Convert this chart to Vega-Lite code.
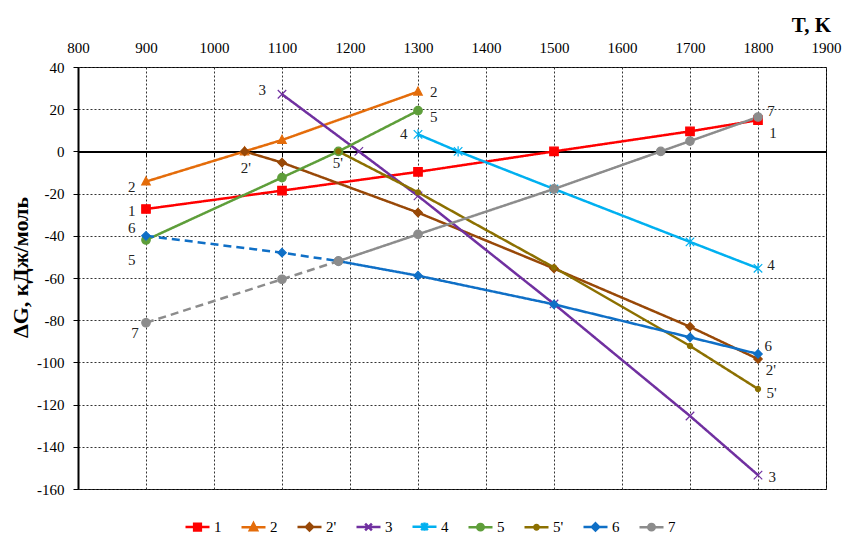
{
  "$schema": "https://vega.github.io/schema/vega-lite/v6.json",
  "width": 748,
  "height": 422,
  "autosize": {"type": "none"},
  "padding": {"left": 78, "top": 67, "right": 17, "bottom": 47},
  "background": "white",
  "config": {
    "font": "Liberation Serif",
    "view": {"stroke": "#000", "strokeWidth": 1},
    "axis": {
      "labelFont": "Liberation Serif",
      "labelFontSize": 15,
      "labelColor": "#000",
      "titleFont": "Liberation Serif",
      "titleColor": "#000",
      "gridColor": "#333",
      "gridDash": [2, 2],
      "gridWidth": 1
    },
    "legend": {
      "orient": "none",
      "legendX": 106,
      "legendY": 446,
      "direction": "horizontal",
      "padding": 0,
      "labelFont": "Liberation Serif",
      "labelFontSize": 15,
      "labelColor": "#000",
      "labelOffset": 3,
      "columnPadding": 14,
      "symbolSize": 576,
      "symbolStrokeWidth": 2.5,
      "symbolOpacity": 1
    }
  },
  "datasets": {
    "pts": [
      {"s": "1", "T": 900, "dG": -27.3, "part": "calc"},
      {"s": "1", "T": 1100, "dG": -18.6, "part": "calc"},
      {"s": "1", "T": 1300, "dG": -9.7, "part": "calc"},
      {"s": "1", "T": 1500, "dG": 0, "part": "calc"},
      {"s": "1", "T": 1700, "dG": 9.5, "part": "calc"},
      {"s": "1", "T": 1800, "dG": 14.8, "part": "calc"},
      {"s": "2", "T": 900, "dG": -14.3, "part": "calc"},
      {"s": "2", "T": 1045, "dG": 0, "part": "calc"},
      {"s": "2", "T": 1100, "dG": 5.4, "part": "calc"},
      {"s": "2", "T": 1300, "dG": 28.3, "part": "calc"},
      {"s": "2'", "T": 1045, "dG": 0, "part": "calc"},
      {"s": "2'", "T": 1100, "dG": -5.3, "part": "calc"},
      {"s": "2'", "T": 1300, "dG": -29, "part": "calc"},
      {"s": "2'", "T": 1500, "dG": -55.5, "part": "calc"},
      {"s": "2'", "T": 1700, "dG": -83.1, "part": "calc"},
      {"s": "2'", "T": 1800, "dG": -98.4, "part": "calc"},
      {"s": "3", "T": 1100, "dG": 27.1, "part": "calc"},
      {"s": "3", "T": 1213, "dG": 0, "part": "calc"},
      {"s": "3", "T": 1300, "dG": -21.1, "part": "calc"},
      {"s": "3", "T": 1500, "dG": -72.3, "part": "calc"},
      {"s": "3", "T": 1700, "dG": -125.4, "part": "calc"},
      {"s": "3", "T": 1800, "dG": -153.4, "part": "calc"},
      {"s": "4", "T": 1300, "dG": 8.1, "part": "calc"},
      {"s": "4", "T": 1359, "dG": 0, "part": "calc"},
      {"s": "4", "T": 1500, "dG": -17.8, "part": "calc"},
      {"s": "4", "T": 1700, "dG": -42.9, "part": "calc"},
      {"s": "4", "T": 1800, "dG": -55.4, "part": "calc"},
      {"s": "5", "T": 900, "dG": -42, "part": "calc"},
      {"s": "5", "T": 1100, "dG": -12.4, "part": "calc"},
      {"s": "5", "T": 1183, "dG": 0, "part": "calc"},
      {"s": "5", "T": 1300, "dG": 19.3, "part": "calc"},
      {"s": "5'", "T": 1183, "dG": 0, "part": "calc"},
      {"s": "5'", "T": 1300, "dG": -19.4, "part": "calc"},
      {"s": "5'", "T": 1500, "dG": -55, "part": "calc"},
      {"s": "5'", "T": 1700, "dG": -92.2, "part": "calc"},
      {"s": "5'", "T": 1800, "dG": -112.6, "part": "calc"},
      {"s": "6", "T": 900, "dG": -40, "part": "extr"},
      {"s": "6", "T": 1100, "dG": -48, "part": "extr"},
      {"s": "6", "T": 1183, "dG": -52, "part": "extr"},
      {"s": "6", "T": 1183, "dG": -52, "part": "calc"},
      {"s": "6", "T": 1300, "dG": -58.9, "part": "calc"},
      {"s": "6", "T": 1500, "dG": -72.5, "part": "calc"},
      {"s": "6", "T": 1700, "dG": -88.1, "part": "calc"},
      {"s": "6", "T": 1800, "dG": -96, "part": "calc"},
      {"s": "7", "T": 900, "dG": -81.2, "part": "extr"},
      {"s": "7", "T": 1100, "dG": -60.6, "part": "extr"},
      {"s": "7", "T": 1183, "dG": -52, "part": "extr"},
      {"s": "7", "T": 1183, "dG": -52, "part": "calc"},
      {"s": "7", "T": 1300, "dG": -39.3, "part": "calc"},
      {"s": "7", "T": 1500, "dG": -17.8, "part": "calc"},
      {"s": "7", "T": 1657, "dG": 0, "part": "calc"},
      {"s": "7", "T": 1700, "dG": 4.9, "part": "calc"},
      {"s": "7", "T": 1800, "dG": 16.3, "part": "calc"}
    ],
    "labels": [
      {"label": "3", "T": 1071, "dG": 29.1},
      {"label": "2", "T": 1323, "dG": 28.2},
      {"label": "5", "T": 1323, "dG": 16.3},
      {"label": "4", "T": 1279, "dG": 8.2},
      {"label": "2'", "T": 1047, "dG": -7.9},
      {"label": "5'", "T": 1182, "dG": -5.5},
      {"label": "2", "T": 879, "dG": -16.9},
      {"label": "1", "T": 879, "dG": -28.3},
      {"label": "6", "T": 879, "dG": -36.3},
      {"label": "5", "T": 879, "dG": -51.4},
      {"label": "7", "T": 884, "dG": -86},
      {"label": "7", "T": 1819, "dG": 19.1},
      {"label": "1", "T": 1822, "dG": 8.7},
      {"label": "4", "T": 1819, "dG": -53.8},
      {"label": "6", "T": 1815, "dG": -92.2},
      {"label": "2'", "T": 1819, "dG": -103.6},
      {"label": "5'", "T": 1820, "dG": -114.5},
      {"label": "3", "T": 1821, "dG": -154.3}
    ]
  },
  "layer": [
    {
      "data": {"name": "pts"},
      "mark": {"type": "line", "strokeWidth": 2.5},
      "encoding": {
        "x": {
          "field": "T",
          "type": "quantitative",
          "scale": {"domain": [800, 1900], "nice": false, "zero": false},
          "axis": {
            "orient": "top",
            "values": [800, 900, 1000, 1100, 1200, 1300, 1400, 1500, 1600, 1700, 1800, 1900],
            "format": "d",
            "ticks": false,
            "tickSize": 0,
            "domain": false,
            "labelPadding": 12,
            "labelFlush": false,
            "grid": true,
            "zindex": 0,
            "title": "T, K",
            "titleFontSize": 21,
            "titleFontWeight": "bold",
            "titleX": 733,
            "titleY": -42,
            "titleAlign": "center",
            "titleBaseline": "middle"
          }
        },
        "y": {
          "field": "dG",
          "type": "quantitative",
          "scale": {"domain": [-160, 40], "nice": false, "zero": false},
          "axis": {
            "values": [-160, -140, -120, -100, -80, -60, -40, -20, 0, 20, 40],
            "labelExpr": "'' + datum.value",
            "domainColor": "#000",
            "domainWidth": 2,
            "tickColor": "#000",
            "tickSize": 5,
            "labelPadding": 9,
            "grid": true,
            "zindex": 0,
            "title": "ΔG, кДж/моль",
            "titleFontSize": 22,
            "titleFontWeight": "bold",
            "titleX": -58,
            "titleY": 200,
            "titleAlign": "center",
            "titleBaseline": "middle"
          }
        },
        "color": {
          "field": "s",
          "type": "nominal",
          "scale": {
            "domain": ["1", "2", "2'", "3", "4", "5", "5'", "6", "7"],
            "range": ["#FF0000", "#E46C0A", "#984807", "#7030A0", "#00B0F0", "#5E9E3A", "#8C7000", "#0F6FC6", "#8C8C8C"]
          },
          "legend": {"title": null}
        },
        "strokeDash": {
          "field": "part",
          "type": "nominal",
          "scale": {"domain": ["calc", "extr"], "range": [[1, 0], [8, 5]]},
          "legend": null
        }
      }
    },
    {
      "data": {"name": "pts"},
      "mark": {"type": "point", "filled": true, "size": 72, "strokeWidth": 1.2, "opacity": 1},
      "encoding": {
        "x": {
          "field": "T",
          "type": "quantitative",
          "axis": {
            "orient": "bottom",
            "offset": -337.6,
            "labels": false,
            "grid": false,
            "title": null,
            "domainColor": "#000",
            "domainWidth": 2,
            "tickColor": "#000",
            "tickSize": 5,
            "tickWidth": 1,
            "values": [800, 900, 1000, 1100, 1200, 1300, 1400, 1500, 1600, 1700, 1800, 1900],
            "zindex": 0
          }
        },
        "y": {"field": "dG", "type": "quantitative"},
        "color": {"field": "s", "type": "nominal", "legend": {"title": null}},
        "stroke": {
          "field": "s",
          "type": "nominal",
          "scale": {
            "domain": ["1", "2", "2'", "3", "4", "5", "5'", "6", "7"],
            "range": ["#FF0000", "#E46C0A", "#984807", "#7030A0", "#00B0F0", "#5E9E3A", "#8C7000", "#0F6FC6", "#8C8C8C"]
          },
          "legend": null
        },
        "shape": {
          "condition": [
            {"test": "datum.s === '1'", "value": "M-1,-1H1V1H-1Z"},
            {"test": "datum.s === '2'", "value": "M0,-1.1L1,0.8H-1Z"},
            {"test": "datum.s === \"2'\"", "value": "M0,-1L1,0L0,1L-1,0Z"},
            {"test": "datum.s === '3'", "value": "M-1,-1L1,1M-1,1L1,-1"},
            {"test": "datum.s === '4'", "value": "M-1,-1L1,1M-1,1L1,-1M0,-1.2V1.2"},
            {"test": "datum.s === \"5'\"", "value": "M0.6,0A0.6,0.6,0,1,1,-0.6,0A0.6,0.6,0,1,1,0.6,0Z"},
            {"test": "datum.s === '6'", "value": "M0,-1L1,0L0,1L-1,0Z"}
          ],
          "value": "M1,0A1,1,0,1,1,-1,0A1,1,0,1,1,1,0Z"
        }
      }
    },
    {
      "data": {"name": "pts"},
      "transform": [{"filter": "false"}],
      "mark": {"type": "point", "filled": true},
      "encoding": {
        "x": {"field": "T", "type": "quantitative", "axis": null},
        "y": {"field": "dG", "type": "quantitative"},
        "color": {"field": "s", "type": "nominal", "legend": {"title": null}},
        "shape": {
          "field": "s",
          "type": "nominal",
          "scale": {
            "domain": ["1", "2", "2'", "3", "4", "5", "5'", "6", "7"],
            "range": [
              "M-1,0H1M-0.28,-0.28H0.28V0.28H-0.28Z",
              "M-1,0H1M0,-0.33L0.3,0.24H-0.3Z",
              "M-1,0H1M0,-0.3L0.3,0L0,0.3L-0.3,0Z",
              "M-1,0H1M-0.28,-0.28L0.28,0.28M-0.28,0.28L0.28,-0.28",
              "M-1,0H1M-0.28,-0.28L0.28,0.28M-0.28,0.28L0.28,-0.28M0,-0.35V0.35",
              "M-1,0H1M0.27,0A0.27,0.27,0,1,1,-0.27,0A0.27,0.27,0,1,1,0.27,0Z",
              "M-1,0H1M0.18,0A0.18,0.18,0,1,1,-0.18,0A0.18,0.18,0,1,1,0.18,0Z",
              "M-1,0H1M0,-0.3L0.3,0L0,0.3L-0.3,0Z",
              "M-1,0H1M0.27,0A0.27,0.27,0,1,1,-0.27,0A0.27,0.27,0,1,1,0.27,0Z"
            ]
          },
          "legend": {"title": null}
        }
      }
    },
    {
      "data": {"name": "labels"},
      "mark": {"type": "text", "font": "Liberation Serif", "fontSize": 15, "color": "#222"},
      "encoding": {
        "x": {"field": "T", "type": "quantitative", "axis": null},
        "y": {"field": "dG", "type": "quantitative"},
        "text": {"field": "label"}
      }
    }
  ],
  "resolve": {"axis": {"x": "independent"}}
}
